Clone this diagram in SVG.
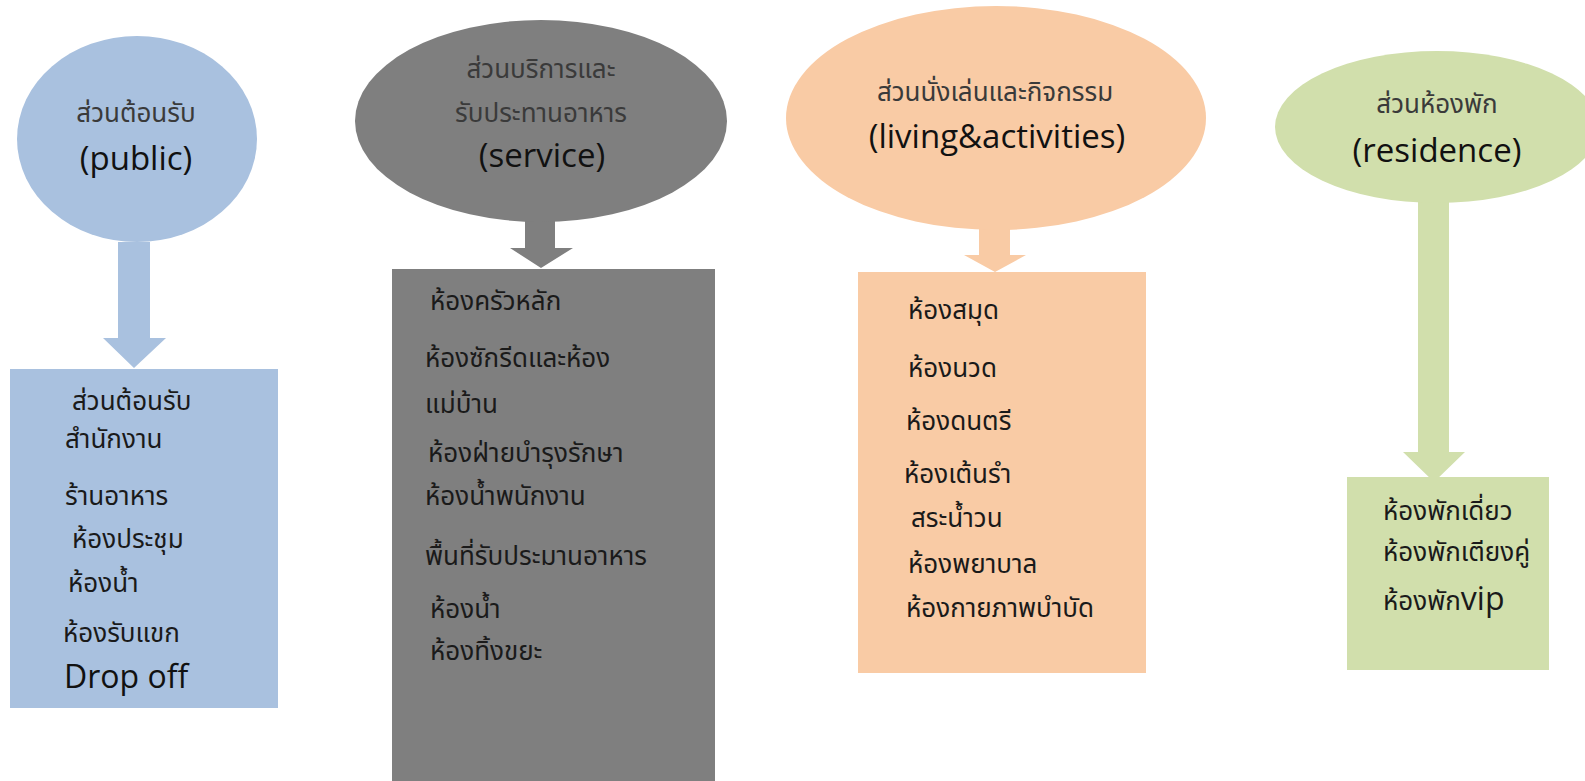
<svg xmlns="http://www.w3.org/2000/svg" width="1585" height="781" viewBox="0 0 1585 781">
<style>
.th{font-family:"Noto Sans Thai","Tahoma","Noto Sans","DejaVu Sans",sans-serif;font-size:26px;fill:#1a1a1a}
.tc{fill:#3a3a3a;text-anchor:middle}
.en{font-family:"Open Sans","Noto Sans","DejaVu Sans",sans-serif;font-size:33px;fill:#111;text-anchor:middle}
.blue{fill:#A9C1DF}.gray{fill:#7F7F7F}.orange{fill:#F9CBA5}.green{fill:#D1DFAC}
</style>
<rect width="1585" height="781" fill="#fff"/>
<g id="connectors">
<polygon class="blue" points="118,242 150,242 150,338 166,338 134,368 103,338 118,338"/>
<polygon class="gray" points="525,220 555,220 555,248 573,248 541,268 510,248 525,248"/>
<polygon class="orange" points="979,228 1010,228 1010,255 1026,255 995,272 964,255 979,255"/>
<polygon class="green" points="1418,202 1449,202 1449,452 1465,452 1434,482 1403,452 1418,452"/>
</g>
<g id="public-head">
<ellipse class="blue" cx="137" cy="139" rx="120" ry="103"/>
<text class="th tc" x="136" y="122">ส่วนต้อนรับ</text>
<text class="en" x="136" y="170">(public)</text>
</g>
<g id="public-list">
<rect class="blue" x="10" y="369" width="268" height="339"/>
<text class="th" x="72" y="410">ส่วนต้อนรับ</text>
<text class="th" x="65" y="448">สำนักงาน</text>
<text class="th" x="65" y="505">ร้านอาหาร</text>
<text class="th" x="72" y="548">ห้องประชุม</text>
<text class="th" x="68" y="592">ห้องน้ำ</text>
<text class="th" x="63" y="642">ห้องรับแขก</text>
<text class="en" x="64" y="688" style="text-anchor:start;font-size:32px">Drop off</text>
</g>
<g id="service-head">
<ellipse class="gray" cx="541" cy="121" rx="186" ry="101"/>
<text class="th tc" x="541" y="78">ส่วนบริการและ</text>
<text class="th tc" x="541" y="122">รับประทานอาหาร</text>
<text class="en" x="542" y="167">(service)</text>
</g>
<g id="service-list">
<rect class="gray" x="392" y="269" width="323" height="512"/>
<text class="th" x="430" y="310">ห้องครัวหลัก</text>
<text class="th" x="425" y="367">ห้องซักรีดและห้อง</text>
<text class="th" x="425" y="413">แม่บ้าน</text>
<text class="th" x="428" y="462">ห้องฝ่ายบำรุงรักษา</text>
<text class="th" x="425" y="505">ห้องน้ำพนักงาน</text>
<text class="th" x="425" y="565">พื้นที่รับประมานอาหาร</text>
<text class="th" x="430" y="618">ห้องน้ำ</text>
<text class="th" x="430" y="660">ห้องทิ้งขยะ</text>
</g>
<g id="living-head">
<ellipse class="orange" cx="996" cy="118" rx="210" ry="112"/>
<text class="th tc" x="995" y="101">ส่วนนั่งเล่นและกิจกรรม</text>
<text class="en" x="997" y="148">(living&amp;activities)</text>
</g>
<g id="living-list">
<rect class="orange" x="858" y="272" width="288" height="401"/>
<text class="th" x="908" y="319">ห้องสมุด</text>
<text class="th" x="908" y="377">ห้องนวด</text>
<text class="th" x="906" y="430">ห้องดนตรี</text>
<text class="th" x="904" y="483">ห้องเต้นรำ</text>
<text class="th" x="911" y="527">สระน้ำวน</text>
<text class="th" x="908" y="573">ห้องพยาบาล</text>
<text class="th" x="906" y="617">ห้องกายภาพบำบัด</text>
</g>
<g id="residence-head">
<ellipse class="green" cx="1437" cy="127" rx="162" ry="76"/>
<text class="th tc" x="1437" y="113">ส่วนห้องพัก</text>
<text class="en" x="1437" y="162">(residence)</text>
</g>
<g id="residence-list">
<rect class="green" x="1347" y="477" width="202" height="193"/>
<text class="th" x="1383" y="520">ห้องพักเดี่ยว</text>
<text class="th" x="1383" y="561">ห้องพักเตียงคู่</text>
<text class="th" x="1383" y="610">ห้องพัก<tspan style="font-family:'Open Sans',sans-serif;font-size:32px">vip</tspan></text>
</g>
</svg>
